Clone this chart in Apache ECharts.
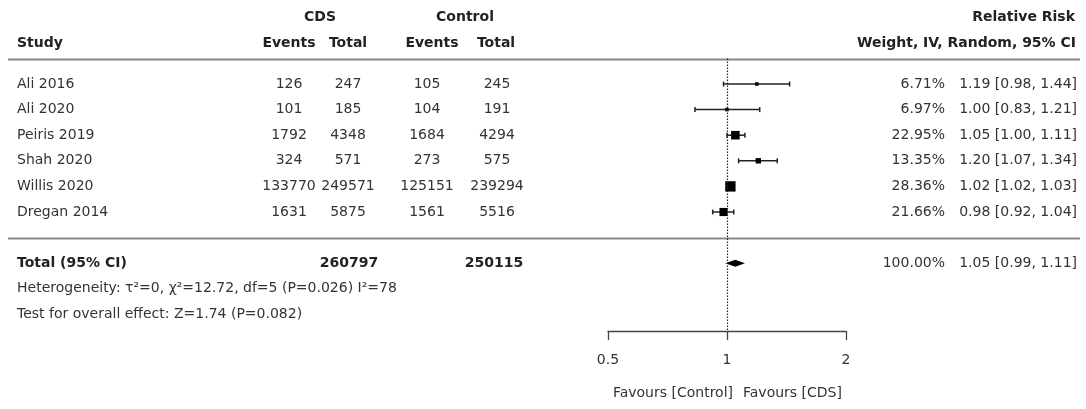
<!DOCTYPE html>
<html>
<head>
<meta charset="utf-8">
<script src="https://cdn.jsdelivr.net/npm/echarts@6/dist/echarts.min.js"></script>
<style>
  html, body { margin: 0; padding: 0; background: #fff; }
  #chart { width: 1086px; height: 409px; }
</style>
</head>
<body>
<div id="chart"></div>
<script>
// Meta-analysis of CDS vs control: study table and forest plot (relative risk)
const studies    = ['Ali 2016', 'Ali 2020', 'Peiris 2019', 'Shah 2020', 'Willis 2020', 'Dregan 2014'];
const cdsEvents  = [126, 101, 1792, 324, 133770, 1631];
const cdsTotal   = [247, 185, 4348, 571, 249571, 5875];
const ctrlEvents = [105, 104, 1684, 273, 125151, 1561];
const ctrlTotal  = [245, 191, 4294, 575, 239294, 5516];
const weights    = [6.71, 6.97, 22.95, 13.35, 28.36, 21.66];
const rr         = [1.19, 1.00, 1.05, 1.20, 1.02, 0.98];
const ciLow      = [0.98, 0.83, 1.00, 1.07, 1.02, 0.92];
const ciHigh     = [1.44, 1.21, 1.11, 1.34, 1.03, 1.04];

const totalCds = 260797;
const totalCtrl = 250115;
const pooledWeight = 100;
const pooledRR = 1.05, pooledLow = 0.99, pooledHigh = 1.11;
const heterogeneityText = 'Heterogeneity: τ²=0, χ²=12.72, df=5 (P=0.026) I²=78';
const overallText = 'Test for overall effect: Z=1.74 (P=0.082)';
const axisTicks = [0.5, 1, 2];

const FONT = 'DejaVu Sans';
const FS = 14;
const TXT = '#333';

const studyRows = studies.map((_, i) => i);
const TOTAL_ROW = 7, HET_ROW = 8, TEST_ROW = 9;

const fmt2 = v => v.toFixed(2);
const ciLabel = (m, l, h) => `${fmt2(m)} [${fmt2(l)}, ${fmt2(h)}]`;

// A column of text placed on the table grid (x in px-like units, y in rows)
function textColumn(texts, rows, x, align, bold) {
  return {
    type: 'custom', xAxisIndex: 0, yAxisIndex: 0, silent: true,
    data: texts.map((_, i) => [x, rows[i]]),
    renderItem(params, api) {
      const p = api.coord([api.value(0), api.value(1)]);
      return {
        type: 'text', x: p[0], y: p[1],
        style: {
          text: String(texts[params.dataIndex]),
          align: align, verticalAlign: 'middle',
          fontFamily: FONT, fontSize: FS, fontWeight: bold ? 'bold' : 'normal',
          fill: bold ? '#222' : TXT
        }
      };
    }
  };
}

function headerText(text, x, y, align) {
  return {
    type: 'text', x: x, y: y, silent: true,
    style: { text, align, verticalAlign: 'middle', fontFamily: FONT, fontSize: FS, fontWeight: 'bold', fill: '#222' }
  };
}

const chart = echarts.init(document.getElementById('chart'), null, { renderer: 'canvas' });

const gridTop = 58.4, gridHeight = 272.64;
const rowAxis = { type: 'value', min: -1, max: 9.65, inverse: true, show: false };

chart.setOption({
  animation: false,
  backgroundColor: '#fff',
  grid: [
    { left: 0, width: 1086, top: gridTop, height: gridHeight },
    { left: 608, width: 238, top: gridTop, height: gridHeight }
  ],
  xAxis: [
    { type: 'value', gridIndex: 0, min: 0, max: 1086, show: false },
    {
      type: 'log', gridIndex: 1, logBase: 2, min: 0.5, max: 2, interval: 1,
      position: 'bottom',
      axisLine: { show: true, onZero: false, lineStyle: { color: '#444', width: 1.3 } },
      axisTick: { show: true, inside: false, length: 9, lineStyle: { color: '#444', width: 1.3 } },
      axisLabel: {
        margin: 22, color: TXT, fontFamily: FONT, fontSize: FS,
        formatter: v => axisTicks.find(t => Math.abs(t - v) < 1e-6) !== undefined ? String(+v.toFixed(2)) : ''
      },
      splitLine: { show: false }
    }
  ],
  yAxis: [
    Object.assign({ gridIndex: 0 }, rowAxis),
    Object.assign({ gridIndex: 1 }, rowAxis)
  ],
  graphic: [
    headerText('CDS', 320, 17, 'center'),
    headerText('Control', 465, 17, 'center'),
    headerText('Relative Risk', 1075, 17, 'right'),
    headerText('Study', 17, 43, 'left'),
    headerText('Events', 289, 43, 'center'),
    headerText('Total', 348, 43, 'center'),
    headerText('Events', 432, 43, 'center'),
    headerText('Total', 496, 43, 'center'),
    headerText('Weight, IV, Random, 95% CI', 1076, 43, 'right'),
    { type: 'line', silent: true, shape: { x1: 8, y1: 59.5, x2: 1080, y2: 59.5 }, style: { stroke: '#888', lineWidth: 2 } },
    { type: 'line', silent: true, shape: { x1: 8, y1: 238.5, x2: 1080, y2: 238.5 }, style: { stroke: '#888', lineWidth: 2 } },
    { type: 'text', x: 733, y: 393, silent: true, style: { text: 'Favours [Control]', align: 'right', verticalAlign: 'middle', fontFamily: FONT, fontSize: FS, fill: TXT } },
    { type: 'text', x: 743, y: 393, silent: true, style: { text: 'Favours [CDS]', align: 'left', verticalAlign: 'middle', fontFamily: FONT, fontSize: FS, fill: TXT } }
  ],
  series: [
    textColumn(studies, studyRows, 17, 'left'),
    textColumn(cdsEvents, studyRows, 289, 'center'),
    textColumn(cdsTotal, studyRows, 348, 'center'),
    textColumn(ctrlEvents, studyRows, 427, 'center'),
    textColumn(ctrlTotal, studyRows, 497, 'center'),
    textColumn(weights.map(w => fmt2(w) + '%'), studyRows, 945, 'right'),
    textColumn(rr.map((m, i) => ciLabel(m, ciLow[i], ciHigh[i])), studyRows, 1077, 'right'),

    textColumn(['Total (95% CI)'], [TOTAL_ROW], 17, 'left', true),
    textColumn([totalCds], [TOTAL_ROW], 349, 'center', true),
    textColumn([totalCtrl], [TOTAL_ROW], 494, 'center', true),
    textColumn([pooledWeight.toFixed(2) + '%'], [TOTAL_ROW], 945, 'right'),
    textColumn([ciLabel(pooledRR, pooledLow, pooledHigh)], [TOTAL_ROW], 1077, 'right'),
    textColumn([heterogeneityText], [HET_ROW], 17, 'left'),
    textColumn([overallText], [TEST_ROW], 17, 'left'),

    // Study estimates: CI whiskers with caps and weight-scaled squares
    {
      type: 'custom', xAxisIndex: 1, yAxisIndex: 1, silent: true,
      encode: { x: 0, y: 1 },
      data: studies.map((_, i) => [rr[i], i, ciLow[i], ciHigh[i], weights[i]]),
      renderItem(params, api) {
        const y = api.value(1);
        const c = api.coord([api.value(0), y]);
        const lo = api.coord([api.value(2), y]);
        const hi = api.coord([api.value(3), y]);
        const s = Math.max(3.5, 1 + api.value(4) * 0.33);
        const ls = { stroke: '#222', lineWidth: 1.5 };
        return {
          type: 'group',
          children: [
            { type: 'line', shape: { x1: lo[0], y1: c[1], x2: hi[0], y2: c[1] }, style: ls },
            { type: 'line', shape: { x1: lo[0], y1: c[1] - 2.5, x2: lo[0], y2: c[1] + 2.5 }, style: ls },
            { type: 'line', shape: { x1: hi[0], y1: c[1] - 2.5, x2: hi[0], y2: c[1] + 2.5 }, style: ls },
            { type: 'rect', shape: { x: c[0] - s / 2, y: c[1] - s / 2, width: s, height: s }, style: { fill: '#000' } }
          ]
        };
      },
      markLine: {
        silent: true, symbol: 'none', animation: false,
        label: { show: false },
        lineStyle: { type: [1.5, 1.5], color: '#222', width: 1.2 },
        data: [{ xAxis: 1 }]
      }
    },

    // Pooled estimate diamond
    {
      type: 'custom', xAxisIndex: 1, yAxisIndex: 1, silent: true,
      encode: { x: 0, y: 1 },
      data: [[pooledRR, TOTAL_ROW, pooledLow, pooledHigh]],
      renderItem(params, api) {
        const y = api.value(1);
        const c = api.coord([api.value(0), y]);
        const lo = api.coord([api.value(2), y]);
        const hi = api.coord([api.value(3), y]);
        const h = 3.5;
        return {
          type: 'polygon',
          shape: { points: [[lo[0], c[1]], [c[0], c[1] - h], [hi[0], c[1]], [c[0], c[1] + h]] },
          style: { fill: '#000' }
        };
      }
    }
  ]
});
</script>
</body>
</html>
